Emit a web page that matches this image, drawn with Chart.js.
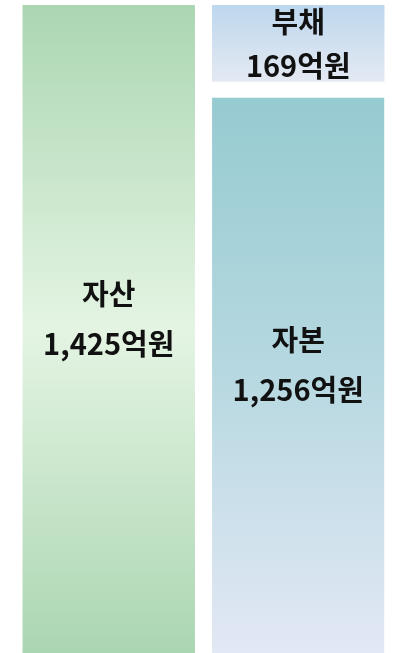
<!DOCTYPE html>
<html lang="ko">
<head>
<meta charset="utf-8">
<script src="https://cdn.jsdelivr.net/npm/chart.js@4"></script>
<style>
  html, body { margin: 0; padding: 0; background: #fff; }
  #wrap { width: 393px; height: 653px; position: relative; }
</style>
</head>
<body>
<div id="wrap"><canvas id="bsChart"></canvas></div>
<script>
// 재무상태표 요약 (단위: 억원)
const categories = ["자산", "부채+자본"];
const assets = [1425, null];
const equity = [null, 1256];
const liabilities = [null, 169];
const unit = "억원";

// 막대 색 (위 -> 아래 그라디언트)
function gradientFor(ctx, fromVal, toVal, stops) {
    const chart = ctx.chart;
    const y = chart.scales.y;
    if (!chart.chartArea || !y) return stops[0];
    const top = y.getPixelForValue(fromVal);
    const bottom = y.getPixelForValue(toVal);
    const g = chart.ctx.createLinearGradient(0, top, 0, bottom);
    stops.forEach((c, i) => g.addColorStop(i / (stops.length - 1), c));
    return g;
}

// 막대 가운데에 이름 + 금액 두 줄로 쓰기
const barLabels = {
    id: 'barLabels',
    afterDatasetsDraw(chart) {
        const c = chart.ctx;
        c.save();
        c.fillStyle = '#111';
        c.font = 'bold 29px "Noto Sans CJK KR", "Noto Sans", sans-serif';
        c.textAlign = 'center';
        c.textBaseline = 'middle';
        chart.data.datasets.forEach((ds, i) => {
            const meta = chart.getDatasetMeta(i);
            meta.data.forEach((bar, j) => {
                const v = ds.data[j];
                if (v == null) return;
                const p = bar.getProps(['x', 'y', 'base'], true);
                const gap = ds.labelGap;
                const mid = (p.y + p.base) / 2 + ds.labelShift;
                c.fillText(ds.label, p.x, mid - gap / 2);
                c.fillText(v.toLocaleString('en-US') + unit, p.x, mid + gap / 2);
            });
        });
        c.restore();
    }
};

const data = {
    labels: categories,
    datasets: [
        {
            label: '자산',
            data: assets,
            labelGap: 50,
            labelShift: -10,
            backgroundColor: (ctx) => gradientFor(ctx, 1425, 0, ['#abd6b2', '#e4f4e3', '#abd6b2'])
        },
        {
            label: '자본',
            data: equity,
            labelGap: 50,
            labelShift: -2,
            borderWidth: { top: 16, left: 0, right: 0, bottom: 0 },
            borderColor: '#ffffff',
            borderSkipped: false,
            backgroundColor: (ctx) => gradientFor(ctx, 1256, 0, ['#94cad0', '#b6d8e0', '#e2e8f5'])
        },
        {
            label: '부채',
            data: liabilities,
            labelGap: 44,
            labelShift: 1,
            backgroundColor: (ctx) => gradientFor(ctx, 1425, 1256, ['#bdd7ee', '#e4e9f2'])
        }
    ]
};

const config = {
    type: 'bar',
    data: data,
    options: {
        responsive: true,
        maintainAspectRatio: false,
        animation: false,
        layout: { padding: { top: 5, left: 14, right: 0, bottom: 0 } },
        datasets: { bar: { categoryPercentage: 1, barPercentage: 0.91, skipNull: true } },
        plugins: { legend: { display: false }, tooltip: { enabled: false } },
        scales: {
            x: { stacked: true, display: false },
            y: { stacked: true, display: false, min: 0, max: 1425 }
        }
    },
    plugins: [barLabels]
};

const bsChart = new Chart(document.getElementById('bsChart'), config);
</script>
</body>
</html>
